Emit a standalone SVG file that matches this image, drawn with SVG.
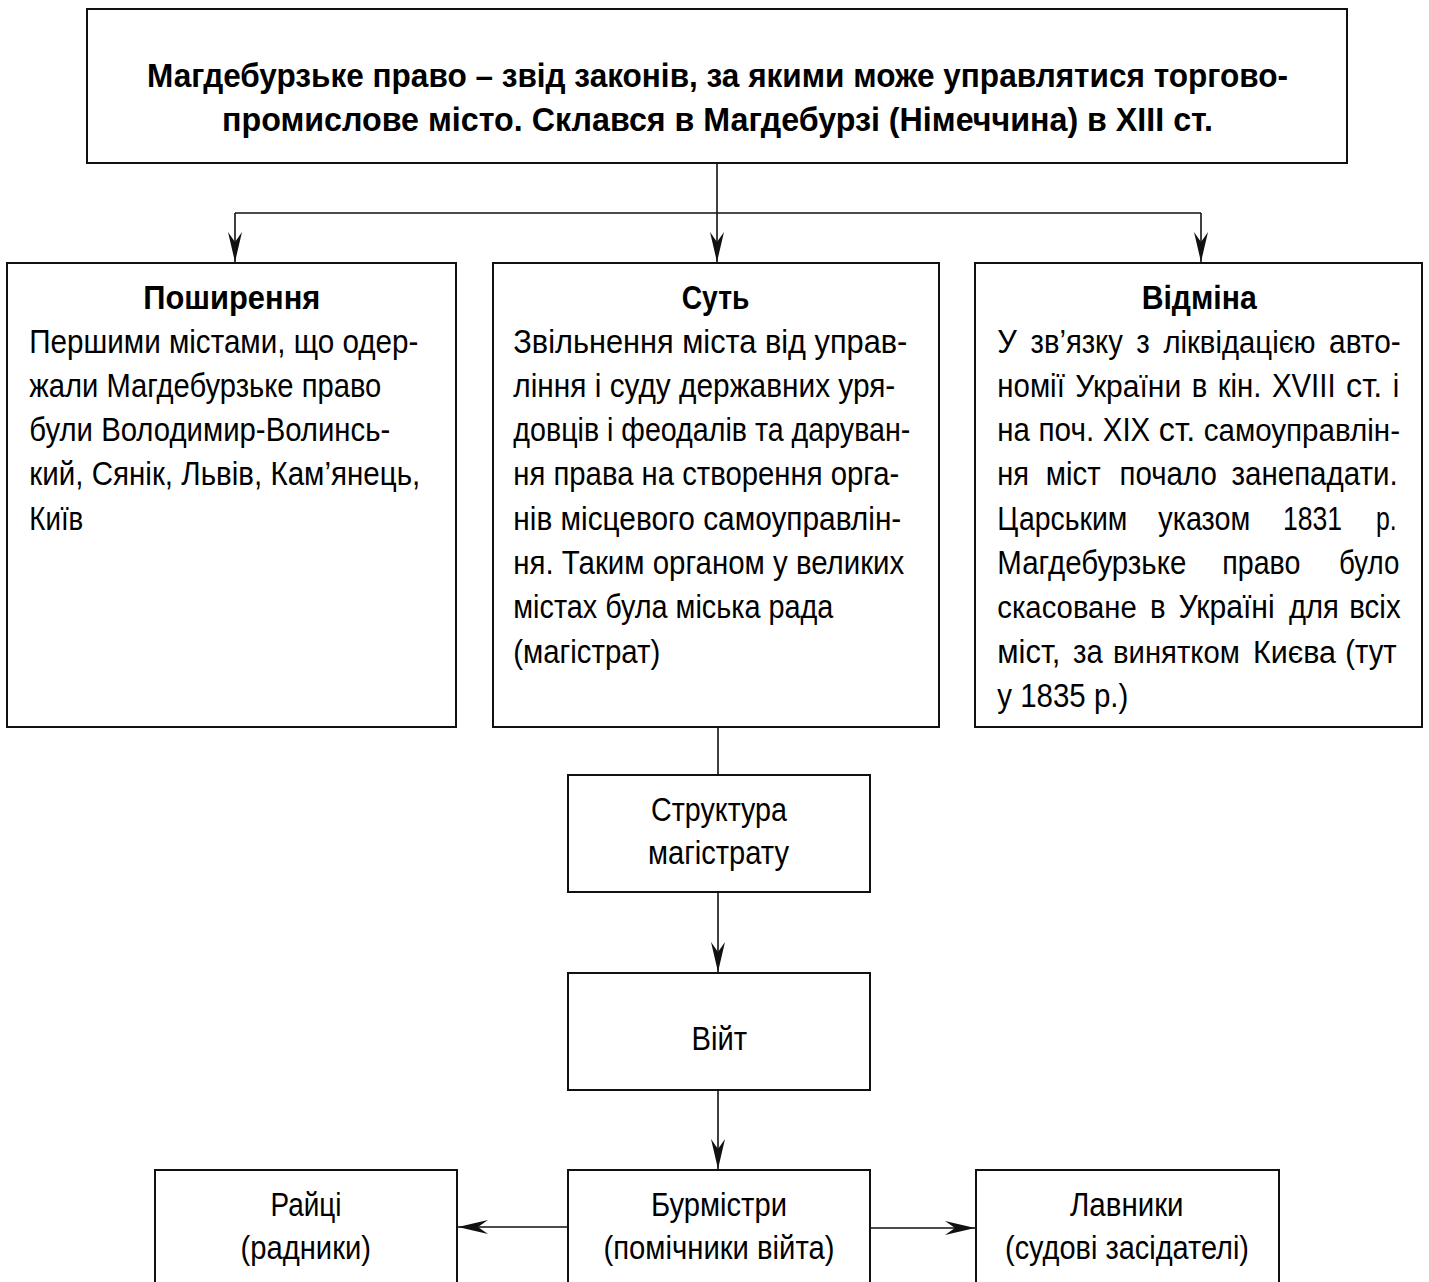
<svg xmlns="http://www.w3.org/2000/svg" width="1429" height="1282" viewBox="0 0 1429 1282">
<defs>
<style>
.box{fill:#fff;stroke:#111;stroke-width:2}
.con{fill:none;stroke:#111;stroke-width:1.6}
text{font-family:"Liberation Sans",Arial,sans-serif;fill:#000}
.t{font-size:33px}
.s{font-size:31px}
.h{font-size:34px;font-weight:bold}
.title{font-size:33px;font-weight:bold}
</style>
<marker id="ah" viewBox="-31 -8 32 16" markerWidth="32" markerHeight="16" refX="0" refY="0" orient="auto" markerUnits="userSpaceOnUse">
<path d="M0,0 L-30,-7 L-20,0 L-30,7 Z" fill="#111"/>
</marker>
</defs>
<rect width="1429" height="1282" fill="#fff"/>

<g id="connectors">
<line class="con" x1="717" y1="163" x2="717" y2="262" marker-end="url(#ah)"/>
<line class="con" x1="235" y1="213" x2="1201" y2="213"/>
<line class="con" x1="235" y1="213" x2="235" y2="262" marker-end="url(#ah)"/>
<line class="con" x1="1201" y1="213" x2="1201" y2="262" marker-end="url(#ah)"/>
<line class="con" x1="718" y1="727" x2="718" y2="775"/>
<line class="con" x1="718" y1="892" x2="718" y2="972" marker-end="url(#ah)"/>
<line class="con" x1="718" y1="1090" x2="718" y2="1169" marker-end="url(#ah)"/>
<line class="con" x1="568" y1="1227" x2="458" y2="1227" marker-end="url(#ah)"/>
<line class="con" x1="870" y1="1228" x2="975" y2="1228" marker-end="url(#ah)"/>
</g>

<g id="node-title">
<rect class="box" x="87" y="9" width="1260" height="154"/>
<text class="title" x="147" y="87" textLength="1141" lengthAdjust="spacingAndGlyphs">Магдебурзьке право – звід законів, за якими може управлятися торгово-</text>
<text class="title" x="222" y="131" textLength="991" lengthAdjust="spacingAndGlyphs">промислове місто. Склався в Магдебурзі (Німеччина) в XIII ст.</text>
</g>

<g id="node-poshyrennia">
<rect class="box" x="7" y="263" width="449" height="464"/>
<text class="h" x="143.3" y="309" textLength="177" lengthAdjust="spacingAndGlyphs">Поширення</text>
<text class="t" x="29.3" y="352.5" textLength="389" lengthAdjust="spacingAndGlyphs">Першими містами, що одер-</text>
<text class="t" x="29.3" y="396.8" textLength="352" lengthAdjust="spacingAndGlyphs">жали Магдебурзьке право</text>
<text class="t" x="29.3" y="441.1" textLength="361" lengthAdjust="spacingAndGlyphs">були Володимир-Волинсь-</text>
<text class="t" x="29.3" y="485.4" textLength="391" lengthAdjust="spacingAndGlyphs">кий, Сянік, Львів, Кам’янець,</text>
<text class="t" x="29.3" y="529.7" textLength="54" lengthAdjust="spacingAndGlyphs">Київ</text>
</g>

<g id="node-sut">
<rect class="box" x="493" y="263" width="446" height="464"/>
<text class="h" x="681.7" y="309" textLength="67.7" lengthAdjust="spacingAndGlyphs">Суть</text>
<text class="t" x="513.3" y="352.5" textLength="394" lengthAdjust="spacingAndGlyphs">Звільнення міста від управ-</text>
<text class="t" x="513.3" y="396.8" textLength="382" lengthAdjust="spacingAndGlyphs">ління і суду державних уря-</text>
<text class="t" x="513.3" y="441.1" textLength="397" lengthAdjust="spacingAndGlyphs">довців і феодалів та даруван-</text>
<text class="t" x="513.3" y="485.4" textLength="386" lengthAdjust="spacingAndGlyphs">ня права на створення орга-</text>
<text class="t" x="513.3" y="529.7" textLength="388" lengthAdjust="spacingAndGlyphs">нів місцевого самоуправлін-</text>
<text class="t" x="513.3" y="574" textLength="391" lengthAdjust="spacingAndGlyphs">ня. Таким органом у великих</text>
<text class="t" x="513.3" y="618.3" textLength="320" lengthAdjust="spacingAndGlyphs">містах була міська рада</text>
<text class="t" x="513.3" y="662.6" textLength="147" lengthAdjust="spacingAndGlyphs">(магістрат)</text>
</g>

<g id="node-vidmina">
<rect class="box" x="975" y="263" width="447" height="464"/>
<text class="h" x="1141.7" y="309" textLength="115" lengthAdjust="spacingAndGlyphs">Відміна</text>
<text class="t" x="997.3" y="352.5" textLength="19.6" lengthAdjust="spacingAndGlyphs">У</text>
<text class="t" x="1030.5" y="352.5" textLength="92.3" lengthAdjust="spacingAndGlyphs">зв’язку</text>
<text class="t" x="1136.3" y="352.5" textLength="13.5" lengthAdjust="spacingAndGlyphs">з</text>
<text class="s" x="1163.4" y="352.5" textLength="152.2" lengthAdjust="spacingAndGlyphs">ліквідацією</text>
<text class="t" x="1329.1" y="352.5" textLength="71.6" lengthAdjust="spacingAndGlyphs">авто-</text>

<text class="t" x="997.3" y="396.8" textLength="67.5" lengthAdjust="spacingAndGlyphs">номії</text>
<text class="s" x="1075.2" y="396.8" textLength="106" lengthAdjust="spacingAndGlyphs">України</text>
<text class="t" x="1191.7" y="396.8" textLength="15.6" lengthAdjust="spacingAndGlyphs">в</text>
<text class="t" x="1217.7" y="396.8" textLength="43.8" lengthAdjust="spacingAndGlyphs">кін.</text>
<text class="t" x="1271.9" y="396.8" textLength="63.7" lengthAdjust="spacingAndGlyphs">XVIII</text>
<text class="t" x="1346" y="396.8" textLength="36.3" lengthAdjust="spacingAndGlyphs">ст.</text>
<text class="t" x="1392.8" y="396.8" textLength="6.5" lengthAdjust="spacingAndGlyphs">і</text>

<text class="t" x="997.3" y="441.1" textLength="32.6" lengthAdjust="spacingAndGlyphs">на</text>
<text class="t" x="1038.5" y="441.1" textLength="55.7" lengthAdjust="spacingAndGlyphs">поч.</text>
<text class="t" x="1102.8" y="441.1" textLength="47.4" lengthAdjust="spacingAndGlyphs">XIX</text>
<text class="t" x="1158.8" y="441.1" textLength="36.3" lengthAdjust="spacingAndGlyphs">ст.</text>
<text class="s" x="1203.7" y="441.1" textLength="196.3" lengthAdjust="spacingAndGlyphs">самоуправлін-</text>

<text class="t" x="997.3" y="485.4" textLength="31.8" lengthAdjust="spacingAndGlyphs">ня</text>
<text class="t" x="1045.8" y="485.4" textLength="54.9" lengthAdjust="spacingAndGlyphs">міст</text>
<text class="t" x="1119.5" y="485.4" textLength="97.3" lengthAdjust="spacingAndGlyphs">почало</text>
<text class="t" x="1231.5" y="485.4" textLength="166.2" lengthAdjust="spacingAndGlyphs">занепадати.</text>

<text class="t" x="997.3" y="529.7" textLength="130" lengthAdjust="spacingAndGlyphs">Царським</text>
<text class="t" x="1158.3" y="529.7" textLength="92" lengthAdjust="spacingAndGlyphs">указом</text>
<text class="t" x="1283" y="529.7" textLength="59" lengthAdjust="spacingAndGlyphs">1831</text>
<text class="t" x="1376" y="529.7" textLength="20.7" lengthAdjust="spacingAndGlyphs">р.</text>

<text class="t" x="997.3" y="574" textLength="189" lengthAdjust="spacingAndGlyphs">Магдебурзьке</text>
<text class="t" x="1222.3" y="574" textLength="78" lengthAdjust="spacingAndGlyphs">право</text>
<text class="t" x="1339" y="574" textLength="60.3" lengthAdjust="spacingAndGlyphs">було</text>

<text class="s" x="997.3" y="618.3" textLength="139.5" lengthAdjust="spacingAndGlyphs">скасоване</text>
<text class="t" x="1150" y="618.3" textLength="15.6" lengthAdjust="spacingAndGlyphs">в</text>
<text class="t" x="1178.5" y="618.3" textLength="96.1" lengthAdjust="spacingAndGlyphs">Україні</text>
<text class="t" x="1289" y="618.3" textLength="49.9" lengthAdjust="spacingAndGlyphs">для</text>
<text class="t" x="1349.2" y="618.3" textLength="51.5" lengthAdjust="spacingAndGlyphs">всіх</text>

<text class="t" x="997.3" y="662.6" textLength="63.1" lengthAdjust="spacingAndGlyphs">міст,</text>
<text class="t" x="1073" y="662.6" textLength="29.8" lengthAdjust="spacingAndGlyphs">за</text>
<text class="s" x="1113" y="662.6" textLength="126.8" lengthAdjust="spacingAndGlyphs">винятком</text>
<text class="s" x="1253" y="662.6" textLength="83" lengthAdjust="spacingAndGlyphs">Києва</text>
<text class="t" x="1345.3" y="662.6" textLength="51.4" lengthAdjust="spacingAndGlyphs">(тут</text>

<text class="t" x="997.3" y="706.9" textLength="131" lengthAdjust="spacingAndGlyphs">у 1835 р.)</text>
</g>

<g id="node-struktura">
<rect class="box" x="568" y="775" width="302" height="117"/>
<text class="t" x="651" y="821" textLength="136" lengthAdjust="spacingAndGlyphs">Структура</text>
<text class="t" x="648" y="864" textLength="141" lengthAdjust="spacingAndGlyphs">магістрату</text>
</g>

<g id="node-viit">
<rect class="box" x="568" y="973" width="302" height="117"/>
<text class="t" x="691.5" y="1050" textLength="55.5" lengthAdjust="spacingAndGlyphs">Війт</text>
</g>

<g id="node-raitsi">
<rect class="box" x="155" y="1170" width="302" height="130"/>
<text class="t" x="270.5" y="1216" textLength="71" lengthAdjust="spacingAndGlyphs">Райці</text>
<text class="t" x="240.5" y="1259" textLength="130.5" lengthAdjust="spacingAndGlyphs">(радники)</text>
</g>

<g id="node-burmistry">
<rect class="box" x="568" y="1170" width="302" height="130"/>
<text class="t" x="651" y="1216" textLength="136" lengthAdjust="spacingAndGlyphs">Бурмістри</text>
<text class="t" x="603.5" y="1259" textLength="231" lengthAdjust="spacingAndGlyphs">(помічники війта)</text>
</g>

<g id="node-lavnyky">
<rect class="box" x="976" y="1170" width="303" height="130"/>
<text class="t" x="1070" y="1216" textLength="113.6" lengthAdjust="spacingAndGlyphs">Лавники</text>
<text class="t" x="1005" y="1259" textLength="244" lengthAdjust="spacingAndGlyphs">(судові засідателі)</text>
</g>
</svg>
